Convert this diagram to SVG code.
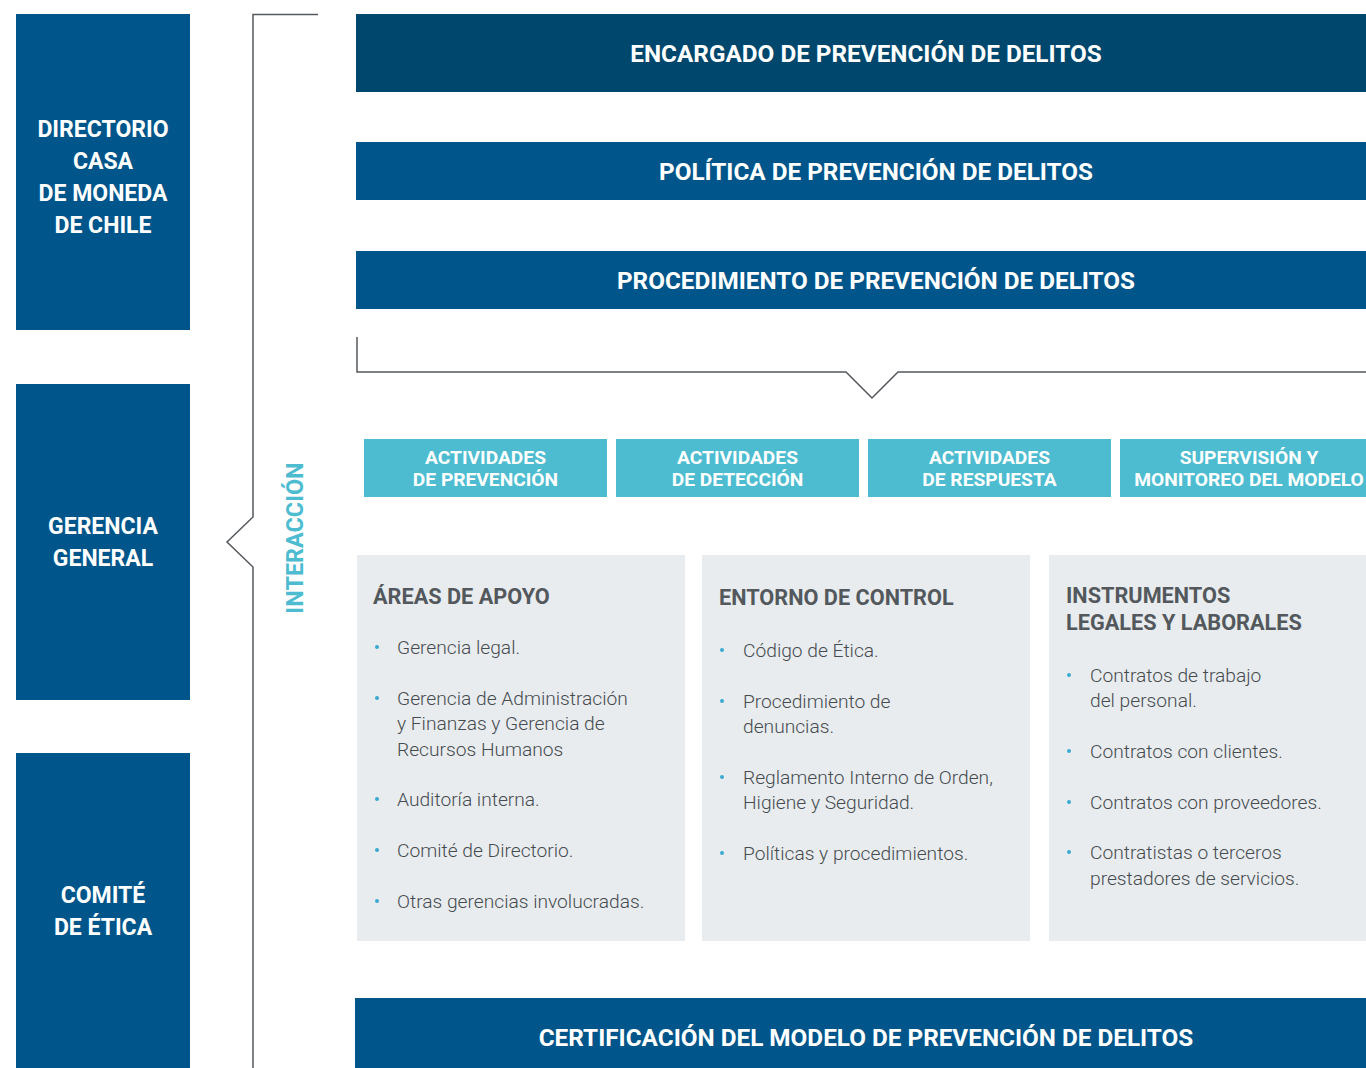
<svg xmlns="http://www.w3.org/2000/svg" width="1366" height="1068" viewBox="0 0 1366 1068">
<style>
.lb{fill:#00568a}
.dk{fill:#00476d}
.cy{fill:#4dbcd0}
.gp{fill:#e8ecee}
.wt{font-family:Roboto,"Liberation Sans",sans-serif;font-weight:700;fill:#ffffff;text-anchor:middle}
.big{font-size:24.3px}
.side{font-size:23px}
.mid{font-size:19.2px}
.hd{font-family:Roboto,"Liberation Sans",sans-serif;font-weight:700;font-size:21.7px;fill:#53585d}
.bt{font-family:Roboto,"Liberation Sans",sans-serif;font-weight:300;font-size:19.2px;fill:#464b50}
.dot{fill:#3aa9d0}
.ln{fill:none;stroke:#55595d;stroke-width:1.5}
</style>
<rect width="1366" height="1068" fill="#ffffff"/>
<g id="connectors">
<path class="ln" d="M318,14.5 H253 V517 L227,542 L253,567 V1068"/>
<path class="ln" d="M357,337 V372 H846 L872,398 L898,372 H1366"/>
</g>
<g id="directorio">
<rect class="lb" x="16" y="14" width="174" height="316"/>
<text class="wt side"><tspan x="103" y="137">DIRECTORIO</tspan><tspan x="103" y="169">CASA</tspan><tspan x="103" y="201">DE MONEDA</tspan><tspan x="103" y="233">DE CHILE</tspan></text>
</g>
<g id="gerencia">
<rect class="lb" x="16" y="384" width="174" height="316"/>
<text class="wt side"><tspan x="103" y="534">GERENCIA</tspan><tspan x="103" y="566">GENERAL</tspan></text>
</g>
<g id="comite">
<rect class="lb" x="16" y="753" width="174" height="315"/>
<text class="wt side"><tspan x="103" y="903">COMITÉ</tspan><tspan x="103" y="935">DE ÉTICA</tspan></text>
</g>
<g id="interaccion">
<text transform="translate(303,538) rotate(-90)" text-anchor="middle" font-family="Roboto,'Liberation Sans',sans-serif" font-weight="700" font-size="23.4" fill="#4dbcd0">INTERACCIÓN</text>
</g>
<g id="encargado">
<rect class="dk" x="356" y="14" width="1010" height="78"/>
<text class="wt big" x="866" y="62">ENCARGADO DE PREVENCIÓN DE DELITOS</text>
</g>
<g id="politica">
<rect class="lb" x="356" y="142" width="1010" height="58"/>
<text class="wt big" x="876" y="180">POLÍTICA DE PREVENCIÓN DE DELITOS</text>
</g>
<g id="procedimiento">
<rect class="lb" x="356" y="251" width="1010" height="58"/>
<text class="wt big" x="876" y="289">PROCEDIMIENTO DE PREVENCIÓN DE DELITOS</text>
</g>
<g id="act-prevencion">
<rect class="cy" x="364" y="439" width="243" height="58"/>
<text class="wt mid"><tspan x="485.5" y="464">ACTIVIDADES</tspan><tspan x="485.5" y="485.5">DE PREVENCIÓN</tspan></text>
</g>
<g id="act-deteccion">
<rect class="cy" x="616" y="439" width="243" height="58"/>
<text class="wt mid"><tspan x="737.5" y="464">ACTIVIDADES</tspan><tspan x="737.5" y="485.5">DE DETECCIÓN</tspan></text>
</g>
<g id="act-respuesta">
<rect class="cy" x="868" y="439" width="243" height="58"/>
<text class="wt mid"><tspan x="989.5" y="464">ACTIVIDADES</tspan><tspan x="989.5" y="485.5">DE RESPUESTA</tspan></text>
</g>
<g id="supervision">
<rect class="cy" x="1120" y="439" width="246" height="58"/>
<text class="wt mid"><tspan x="1249" y="464">SUPERVISIÓN Y</tspan><tspan x="1249" y="485.5">MONITOREO DEL MODELO</tspan></text>
</g>
<g id="areas-apoyo">
<rect class="gp" x="357" y="555" width="328" height="386"/>
<text class="hd" x="373" y="604">ÁREAS DE APOYO</text>
<circle class="dot" cx="377" cy="647" r="2"/>
<circle class="dot" cx="377" cy="698" r="2"/>
<circle class="dot" cx="377" cy="799" r="2"/>
<circle class="dot" cx="377" cy="850" r="2"/>
<circle class="dot" cx="377" cy="901" r="2"/>
<text class="bt"><tspan x="397" y="654">Gerencia legal.</tspan><tspan x="397" y="705">Gerencia de Administración</tspan><tspan x="397" y="730">y Finanzas y Gerencia de</tspan><tspan x="397" y="756">Recursos Humanos</tspan><tspan x="397" y="806">Auditoría interna.</tspan><tspan x="397" y="857">Comité de Directorio.</tspan><tspan x="397" y="908">Otras gerencias involucradas.</tspan></text>
</g>
<g id="entorno-control">
<rect class="gp" x="702" y="555" width="328" height="386"/>
<text class="hd" x="719" y="605">ENTORNO DE CONTROL</text>
<circle class="dot" cx="722" cy="650" r="2"/>
<circle class="dot" cx="722" cy="701" r="2"/>
<circle class="dot" cx="722" cy="777" r="2"/>
<circle class="dot" cx="722" cy="853" r="2"/>
<text class="bt"><tspan x="743" y="657">Código de Ética.</tspan><tspan x="743" y="708">Procedimiento de</tspan><tspan x="743" y="733">denuncias.</tspan><tspan x="743" y="784">Reglamento Interno de Orden,</tspan><tspan x="743" y="809">Higiene y Seguridad.</tspan><tspan x="743" y="860">Políticas y procedimientos.</tspan></text>
</g>
<g id="instrumentos">
<rect class="gp" x="1049" y="555" width="317" height="386"/>
<text class="hd"><tspan x="1066" y="603">INSTRUMENTOS</tspan><tspan x="1066" y="630">LEGALES Y LABORALES</tspan></text>
<circle class="dot" cx="1069" cy="675" r="2"/>
<circle class="dot" cx="1069" cy="751" r="2"/>
<circle class="dot" cx="1069" cy="802" r="2"/>
<circle class="dot" cx="1069" cy="852" r="2"/>
<text class="bt"><tspan x="1090" y="682">Contratos de trabajo</tspan><tspan x="1090" y="707">del personal.</tspan><tspan x="1090" y="758">Contratos con clientes.</tspan><tspan x="1090" y="809">Contratos con proveedores.</tspan><tspan x="1090" y="859">Contratistas o terceros</tspan><tspan x="1090" y="885">prestadores de servicios.</tspan></text>
</g>
<g id="certificacion">
<rect class="lb" x="355" y="998" width="1011" height="70"/>
<text class="wt big" x="866" y="1046">CERTIFICACIÓN DEL MODELO DE PREVENCIÓN DE DELITOS</text>
</g>
</svg>
